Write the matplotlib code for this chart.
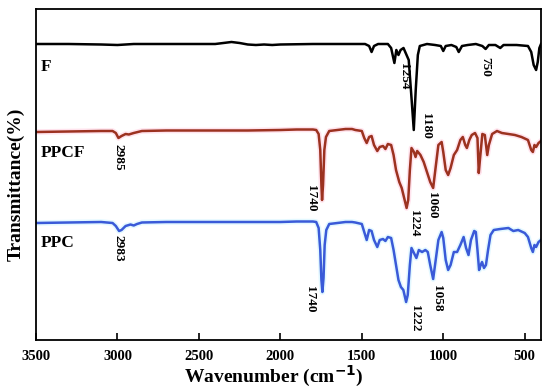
import numpy as np
import matplotlib.pyplot as plt

plt.rcParams['font.family'] = ['Liberation Serif', 'DejaVu Serif']
plt.rcParams['font.weight'] = 'bold'

# F spectrum (wavenumber, offset transmittance)
f_wn = [3500, 3300, 3100, 3000, 2900, 2500, 2400, 2350, 2300, 2250, 2200, 2150, 2100, 2050, 2000,
        1800, 1600, 1480, 1455, 1440, 1425, 1400, 1340, 1320, 1300, 1288, 1275, 1262, 1244, 1212,
        1194, 1181, 1169, 1156, 1144, 1100, 1050, 1015, 1000, 985, 950, 920, 905, 885, 850, 800,
        760, 740, 720, 680, 650, 630, 550, 480, 460, 445, 430, 420, 410, 400]
f_t = [296, 296, 295.5, 295, 296, 296, 296, 297, 298, 297, 295.5, 295, 295.5, 295, 295.5,
       296, 296, 296, 294, 288, 294, 296, 296, 292, 277, 290, 285, 290, 292, 280,
       240, 210, 250, 285, 294, 296, 295, 294, 289, 294, 295, 293, 288, 294, 295, 296,
       294, 291, 295, 295, 292, 295, 295, 294, 288, 275, 270, 278, 292, 296]

# PPCF spectrum
ppcf_wn = [3500, 3300, 3100, 3030, 3010, 2994, 2975, 2950, 2930, 2900, 2850, 2700, 2500, 2200, 2000,
           1900, 1800, 1780, 1765, 1755, 1748, 1744, 1738, 1730, 1720, 1700, 1650, 1600, 1560, 1540,
           1500, 1485, 1470, 1455, 1440, 1425, 1405, 1390, 1370, 1355, 1340, 1320, 1305, 1290, 1270,
           1255, 1240, 1225, 1215, 1205, 1195, 1180, 1170, 1160, 1140, 1120, 1100, 1080, 1062, 1045,
           1030, 1010, 1000, 985, 970, 955, 935, 915, 895, 880, 865, 855, 840, 825, 805,
           790, 782, 775, 760, 745, 730, 720, 700, 670, 640, 600, 560, 520, 480, 460,
           450, 440, 430, 415, 400]
ppcf_t = [208, 208.5, 209, 209, 207, 202, 204, 206, 205.5, 207, 209, 209.5, 209.5, 209.5, 210,
          210.5, 210.5, 210, 206, 190, 155, 140, 155, 190, 203, 209, 210, 211, 211, 210,
          209, 202, 197, 203, 204, 195, 189, 193, 194, 191, 196, 195, 185, 170, 158,
          152, 142, 132, 140, 170, 192, 188, 183, 189, 185, 178, 168, 158, 152, 175,
          195, 198, 188, 170, 165, 172, 185, 190, 200, 203, 195, 192, 200, 205, 207,
          202, 167, 180, 206, 205, 185, 195, 206, 209, 207, 206, 205, 203, 200, 190,
          188, 195, 193, 197, 199]

# PPC spectrum
ppc_wn = [3500, 3300, 3100, 3030, 3010, 2990, 2975, 2950, 2920, 2900, 2880, 2850, 2700, 2500, 2200,
          2000, 1900, 1800, 1780, 1765, 1755, 1748, 1742, 1735, 1728, 1718, 1700, 1650, 1600, 1560,
          1540, 1500, 1485, 1470, 1455, 1440, 1425, 1405, 1390, 1370, 1355, 1340, 1320, 1305, 1290,
          1275, 1260, 1245, 1228, 1218, 1205, 1195, 1180, 1165, 1150, 1130, 1110, 1095, 1080, 1062,
          1048, 1030, 1010, 1000, 985, 970, 955, 935, 915, 895, 875, 860, 845, 830, 810,
          800, 790, 780, 770, 762, 750, 738, 725, 710, 690, 650, 600, 570, 540, 500,
          480, 460, 450, 440, 430, 415, 400]
ppc_t = [117, 117.5, 118, 117, 114, 109, 110, 114, 115.5, 114.5, 116, 117.5, 118, 118, 118,
         118, 118.5, 118.5, 118, 112, 90, 60, 48, 62, 95, 110, 116, 117, 118, 118,
         117.5, 116, 108, 100, 110, 109, 100, 93, 100, 101, 99, 103, 102, 90, 75,
         60, 53, 50, 38, 45, 75, 92, 87, 82, 90, 88, 90, 88, 75, 61,
         78, 100, 108, 102, 80, 70, 75, 88, 88, 95, 103, 92, 85, 100, 109,
         108, 90, 70, 75, 78, 72, 75, 90, 105, 110, 111, 112, 109, 110, 107,
         103, 92, 88, 95, 93, 98, 100]

# peak labels: text, wavenumber, height of text top
peak_text = ['1254', '1180', '750', '2985', '1740', '1224', '1060', '2983', '1740', '1222', '1058']
peak_wn = [1244, 1106, 744, 2994, 1812, 1181, 1069, 2994, 1819, 1175, 1038]
peak_y = [277, 227, 283, 196, 155, 130, 148, 105, 54, 35, 55]

names = ['F', 'PPCF', 'PPC']
name_y = [273, 187, 97]

fig = plt.figure(figsize=(5.5, 3.91), dpi=100)
ax = fig.add_axes([36 / 550, 51 / 391, 505 / 550, 331 / 391])

ax.plot(ppcf_wn, ppcf_t, color='#ffc8dc', lw=4, alpha=0.5, solid_joinstyle='round')
ax.plot(ppc_wn, ppc_t, color='#c8f2ff', lw=4, alpha=0.5, solid_joinstyle='round')
ax.plot(f_wn, f_t, color='black', lw=1.8)
ax.plot(ppcf_wn, ppcf_t, color='#9c3220', lw=1.8)
ax.plot(ppc_wn, ppc_t, color='#3a5ad8', lw=1.8)

for t, x, y in zip(peak_text, peak_wn, peak_y):
    ax.text(x, y, t, rotation=-90, ha='center', va='top', fontsize=9.5, fontweight='bold')
for t, y in zip(names, name_y):
    ax.text(3470, y, t, ha='left', va='center', fontsize=12.5, fontweight='bold')

ax.set_xlim(3500, 400)
ax.set_ylim(0, 331)
ax.set_xticks([3500, 3000, 2500, 2000, 1500, 1000, 500])
ax.set_yticks([])
ax.tick_params(axis='x', direction='in', length=5, width=1.2, labelsize=10.5, pad=7)
for lab in ax.get_xticklabels():
    lab.set_fontweight('bold')
for s in ax.spines.values():
    s.set_linewidth(1.3)

ax.set_xlabel('Wavenumber (cm$^{\\mathbf{-1}}$)', fontsize=14, fontweight='bold')
ax.xaxis.set_label_coords(0.47, -0.072)
ax.set_ylabel('Transmittance(%)', fontsize=14, fontweight='bold')
ax.yaxis.set_label_coords(-0.022, 0.47)

fig.savefig('out.png', dpi=100)
